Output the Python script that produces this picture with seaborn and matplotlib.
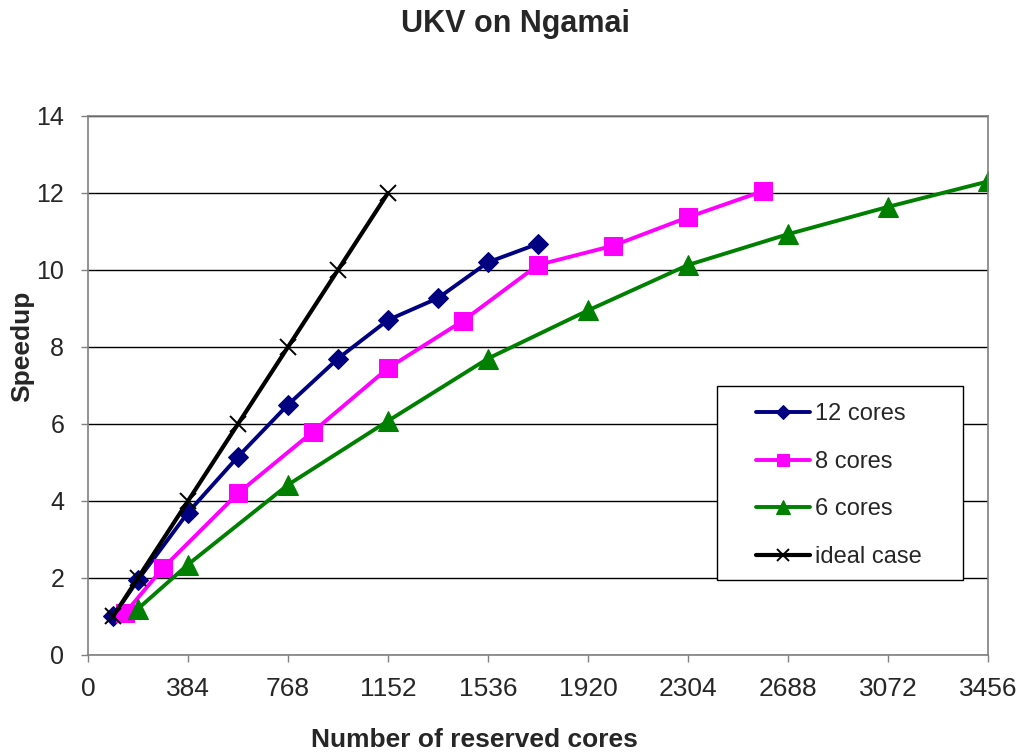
import pandas as pd
import matplotlib
matplotlib.use("Agg")
import matplotlib.pyplot as plt
from matplotlib.patches import Rectangle
import seaborn as sns

# speedup data
x_12 = [96, 192, 384, 576, 768, 960, 1152, 1344, 1536, 1728]
y_12 = [1.0, 1.95, 3.7, 5.15, 6.5, 7.7, 8.7, 9.27, 10.2, 10.68]

x_8 = [144, 288, 576, 864, 1152, 1440, 1728, 2016, 2304, 2592]
y_8 = [1.1, 2.26, 4.2, 5.8, 7.45, 8.68, 10.13, 10.63, 11.37, 12.05]

x_6 = [192, 384, 768, 1152, 1536, 1920, 2304, 2688, 3072, 3456]
y_6 = [1.2, 2.35, 4.42, 6.08, 7.7, 8.95, 10.13, 10.93, 11.64, 12.3]

x_ideal = [96, 192, 384, 576, 768, 960, 1152]
y_ideal = [1, 2, 4, 6, 8, 10, 12]

x_ticks = [0, 384, 768, 1152, 1536, 1920, 2304, 2688, 3072, 3456]
y_ticks = [0, 2, 4, 6, 8, 10, 12, 14]

sns.set_style("white")
plt.rcParams['font.family'] = ['Liberation Sans', 'DejaVu Sans']

fig = plt.figure(figsize=(10.24, 7.56), dpi=100)
ax = fig.add_axes([0.0859, 0.1336, 0.879, 0.713])

series = [
    (x_12, y_12, "12 cores", "#000080", "D", 10),
    (x_8, y_8, "8 cores", "#FF00FF", "s", 12.5),
    (x_6, y_6, "6 cores", "#008000", "^", 14),
]
for xs, ys, lbl, col, mk, ms in series:
    df = pd.DataFrame({"cores": xs, "speedup": ys})
    sns.lineplot(data=df, x="cores", y="speedup", ax=ax, color=col, marker=mk,
                 markersize=ms, markeredgecolor=col, linewidth=2.8, label=lbl)

df_ideal = pd.DataFrame({"cores": x_ideal, "speedup": y_ideal})
sns.lineplot(data=df_ideal, x="cores", y="speedup", ax=ax, color="black", marker="x",
             markersize=12, markeredgewidth=1.4, markeredgecolor="black",
             linewidth=3.0, label="ideal case")

ax.set_xlim(0, 3456)
ax.set_ylim(0, 14)
ax.set_xticks(x_ticks)
ax.set_yticks(y_ticks)
ax.yaxis.grid(True, color="black", linewidth=1.0)
ax.xaxis.grid(False)
for s in ax.spines.values():
    s.set_color("#808080")
    s.set_linewidth(1.2)
ax.tick_params(axis="both", direction="out", length=5, width=1, color="#808080",
               bottom=True, left=True)
ax.tick_params(axis="x", labelsize=19, pad=11)
ax.tick_params(axis="y", labelsize=18, pad=12)

fig.suptitle("UKV on Ngamai", x=0.503, y=0.988, fontsize=22, fontweight="bold", va="top")
ax.set_xlabel("Number of reserved cores", fontsize=19, fontweight="bold")
ax.xaxis.set_label_coords(0.429, -0.136)
ax.set_ylabel("Speedup", fontsize=19, fontweight="bold")
ax.yaxis.set_label_coords(-0.060, 0.573)

# legend box drawn separately so the padding matches the reference
ax.add_patch(Rectangle((0.699, 0.139), 0.273, 0.36, transform=ax.transAxes,
                       facecolor="white", edgecolor="black", linewidth=1.0,
                       zorder=4.5, clip_on=False))
leg = ax.legend(loc="upper left", bbox_to_anchor=(0.742, 0.467), fontsize=17,
                frameon=False, handlelength=2.3, handletextpad=0.2,
                labelspacing=1.08, borderpad=0, borderaxespad=0, markerscale=0.7)
leg.set_zorder(5)

fig.savefig("out.png", dpi=100)
